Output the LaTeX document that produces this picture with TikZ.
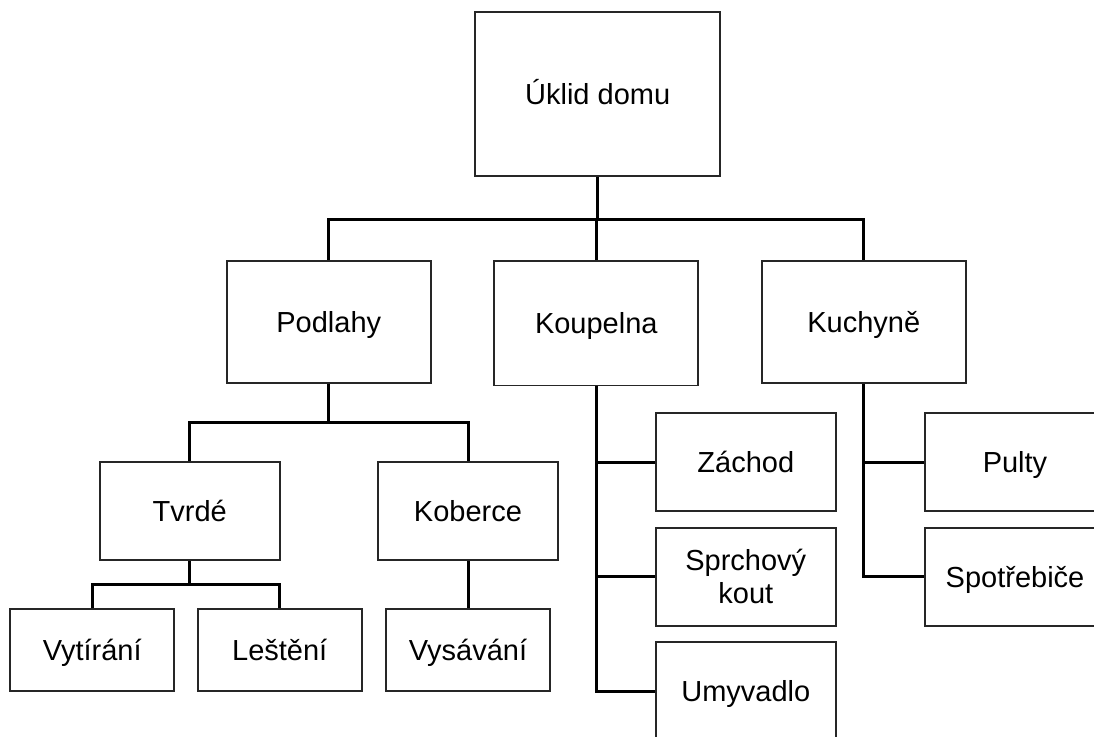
\documentclass[tikz,border=0pt]{standalone}
\usepackage{fontspec}
\setmainfont{Liberation Sans}
\begin{document}
\begin{tikzpicture}[x=1pt,y=-1pt,
  font=\fontsize{29}{33.7}\selectfont,
  box/.style={draw=black!85, line width=1.8pt, inner sep=0pt,
    text height=20.8pt, text depth=0pt, anchor=center},
  bigbox/.style={box, minimum width=245pt, minimum height=164pt},
  midbox/.style={box, minimum width=204pt, minimum height=122pt},
  smallbox/.style={box, minimum width=180pt, minimum height=98pt},
  leafbox/.style={box, minimum width=164pt, minimum height=82pt},
  twoline/.style={align=center, text height=54.5pt},
  link/.style={line width=3pt, black}]
\useasboundingbox (0,0) rectangle (1094,736);
\clip (0,0) rectangle (1094,736);

% top level
\node[bigbox] (root) at (597.7,94.2) {Úklid domu};

% second level
\node[midbox] (pod) at (328.8,321.8) {Podlahy};
\node[midbox, minimum height=124.5pt] (kou) at (596.3,323.3) {Koupelna};
\node[midbox] (kuch) at (863.8,322) {Kuchyně};

% floors
\node[smallbox] (tvr) at (189.8,511.2) {Tvrdé};
\node[smallbox] (kob) at (468,511.2) {Koberce};
\node[leafbox] (vyt) at (92.2,650.2) {Vytírání};
\node[leafbox] (les) at (279.7,650.2) {Leštění};
\node[leafbox] (vys) at (468,650.3) {Vysávání};

% bathroom
\node[smallbox] (zach) at (745.8,462.2) {Záchod};
\node[smallbox, twoline] (spr) at (745.8,576.7) {Sprchový\\kout};
\node[smallbox] (umy) at (745.8,691) {Umyvadlo};

% kitchen
\node[smallbox] (pul) at (1015,462.3) {Pulty};
\node[smallbox] (spo) at (1015,576.7) {Spotřebiče};

% junction points of the connector bars
\coordinate (j0) at (597.7,219);
\coordinate (j1) at (328.8,422.7);
\coordinate (j2) at (189.8,584.7);

% connectors
\draw[link] (root.south) -- (j0);
\draw[link] (pod.north) |- (j0) -| (kuch.north);
\draw[link] (kou.north) -- (kou.north |- j0);

\draw[link] (pod.south) -- (j1);
\draw[link] (tvr.north) |- (j1) -| (kob.north);

\draw[link] (tvr.south) -- (j2);
\draw[link] (vyt.north) |- (j2) -| (les.north);

\draw[link] (kob.south) -- (vys.north);

\draw[link] (kou.south) |- (umy.west);
\draw[link] (kou.south |- zach.west) -- (zach.west);
\draw[link] (kou.south |- spr.west) -- (spr.west);

\draw[link] (kuch.south) |- (spo.west);
\draw[link] (kuch.south |- pul.west) -- (pul.west);
\end{tikzpicture}
\end{document}
